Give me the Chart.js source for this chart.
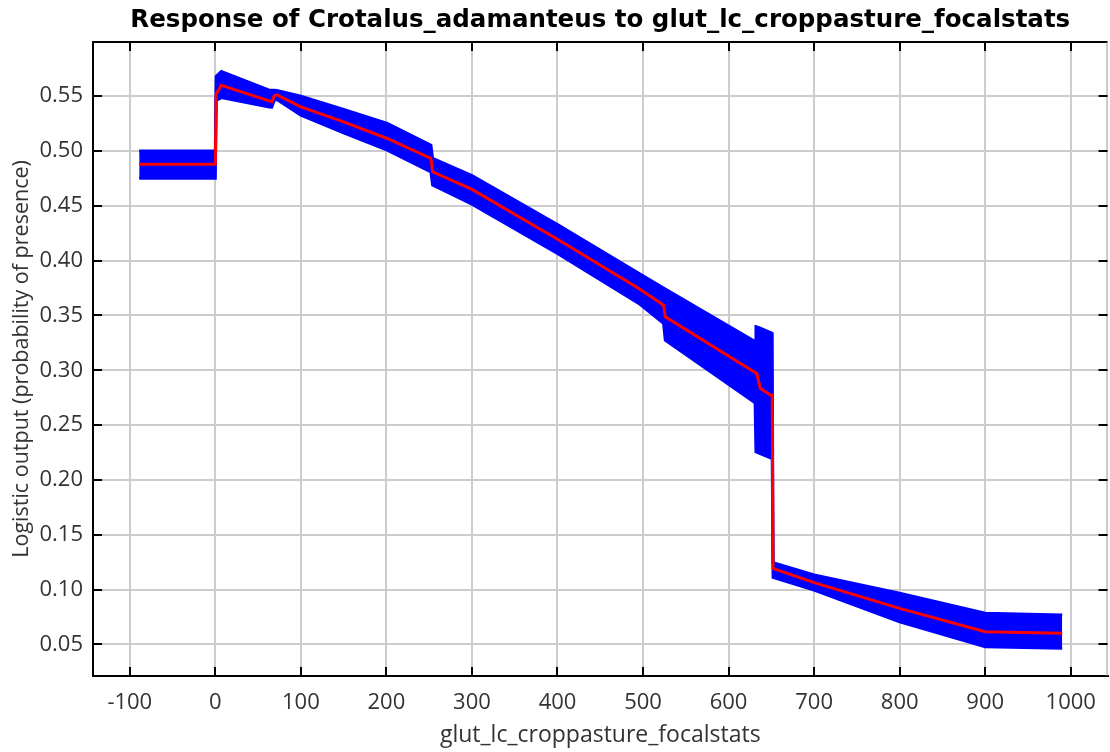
<!DOCTYPE html>
<html>
<head>
  <title>Response of Crotalus_adamanteus</title>
  <script src="https://cdn.jsdelivr.net/npm/chart.js"></script>
  <style>
    body { margin: 0; background: #fff; }
    #curve { display: block; }
  </style>
</head>
<body>
  <canvas id="curve" width="1110" height="752"></canvas>
  <script>
    const titleText = 'Response of Crotalus_adamanteus to glut_lc_croppasture_focalstats';
    const xTitle = 'glut_lc_croppasture_focalstats';
    const yTitle = 'Logistic output (probability of presence)';

    // variable values where the curve was read
    const xValues = [-89, 0, 1, 7, 63, 66, 69, 72, 100, 150, 201, 252, 254, 300, 400, 495, 524, 526,
      631, 632, 633, 637, 649, 651, 652, 700, 800, 900, 990];
    // mean response (red)
    const meanValues = [0.488, 0.488, 0.552, 0.560, 0.5457, 0.5450, 0.5505, 0.5512, 0.5402, 0.5266, 0.5114, 0.4932, 0.481, 0.4650, 0.4195, 0.3747, 0.3594, 0.3488,
      0.2980, 0.2976, 0.2972, 0.2835, 0.2774, 0.2774, 0.1194, 0.1063, 0.0829, 0.0616, 0.0601];
    // mean +/- one std dev (blue band)
    const upperValues = [0.4999, 0.4999, 0.568, 0.5725, 0.5555, 0.5553, 0.5555, 0.5552, 0.5500, 0.5379, 0.5251, 0.5053, 0.4932, 0.4775, 0.4330, 0.3884, 0.3751, 0.3742,
      0.3263, 0.3397, 0.3395, 0.3385, 0.3345, 0.3336, 0.1245, 0.1133, 0.0966, 0.0784, 0.0768];
    const lowerValues = [0.4752, 0.4752, 0.546, 0.5487, 0.5402, 0.5400, 0.5465, 0.5470, 0.5327, 0.5166, 0.5008, 0.4810, 0.4689, 0.4515, 0.4065, 0.3610, 0.3428, 0.3275,
      0.2703, 0.2257, 0.2254, 0.2240, 0.2202, 0.2197, 0.1112, 0.0996, 0.0707, 0.0479, 0.0464];

    const xTicks = [-100, 0, 100, 200, 300, 400, 500, 600, 700, 800, 900, 1000];
    const xTickLabels = ['-100', '0', '100', '200', '300', '400', '500', '600', '700', '800', '900', '1000'];
    const yTicks = [0.05, 0.10, 0.15, 0.20, 0.25, 0.30, 0.35, 0.40, 0.45, 0.50, 0.55];
    const yTickLabels = ['0.05', '0.10', '0.15', '0.20', '0.25', '0.30', '0.35', '0.40', '0.45', '0.50', '0.55'];

    const toPoints = vals => xValues.map((x, i) => ({ x: x, y: vals[i] }));

    // top/right frame and the small inward tick marks on all four sides
    const frameTicks = {
      id: 'frameTicks',
      afterDraw(chart) {
        const ctx = chart.ctx;
        const a = chart.chartArea;
        const xs = chart.scales.x, ys = chart.scales.y;
        const len = 9;
        ctx.save();
        ctx.lineWidth = 2;
        ctx.strokeStyle = '#000';
        ctx.beginPath();
        ctx.moveTo(a.left, a.top);
        ctx.lineTo(a.right, a.top);
        ctx.stroke();
        ctx.strokeStyle = '#999';
        ctx.lineWidth = 1;
        ctx.beginPath();
        ctx.moveTo(a.right - 0.5, a.top);
        ctx.lineTo(a.right - 0.5, a.bottom);
        ctx.stroke();
        ctx.strokeStyle = '#000';
        ctx.lineWidth = 2;
        ctx.beginPath();
        xTicks.forEach(v => {
          const px = Math.round(xs.getPixelForValue(v));
          ctx.moveTo(px, a.bottom);
          ctx.lineTo(px, a.bottom - len);
          ctx.moveTo(px, a.top);
          ctx.lineTo(px, a.top + len);
        });
        yTicks.forEach(v => {
          const py = Math.round(ys.getPixelForValue(v));
          ctx.moveTo(a.left, py);
          ctx.lineTo(a.left + len, py);
          ctx.moveTo(a.right, py);
          ctx.lineTo(a.right - len, py);
        });
        ctx.stroke();
        ctx.restore();
      }
    };

    const tickFont = { family: 'Open Sans', size: 22 };

    const config = {
      type: 'line',
      data: {
        datasets: [
          {
            label: 'mean',
            data: toPoints(meanValues),
            borderColor: '#ff0000',
            borderWidth: 3,
            pointRadius: 0,
            fill: false,
            order: 0
          },
          {
            label: 'upper',
            data: toPoints(upperValues),
            borderColor: '#0000ff',
            backgroundColor: '#0000ff',
            borderWidth: 3,
            pointRadius: 0,
            fill: '+1',
            order: 1
          },
          {
            label: 'lower',
            data: toPoints(lowerValues),
            borderColor: '#0000ff',
            borderWidth: 3,
            pointRadius: 0,
            fill: false,
            order: 2
          }
        ]
      },
      options: {
        responsive: false,
        animation: false,
        layout: { padding: { left: 0, right: 1, top: 0, bottom: 0 } },
        plugins: {
          legend: { display: false },
          tooltip: { enabled: false },
          title: {
            display: true,
            text: titleText,
            fullSize: false,
            color: '#000',
            font: { family: 'DejaVu Sans', size: 24.5, weight: 'bold' },
            padding: { top: 6, bottom: 6.5 }
          }
        },
        scales: {
          x: {
            type: 'linear',
            min: -143,
            max: 1043,
            afterBuildTicks: s => { s.ticks = xTicks.map(v => ({ value: v })); },
            afterFit: s => { s.height = 76; },
            ticks: {
              autoSkip: false,
              maxRotation: 0,
              padding: 14,
              color: '#333',
              font: tickFont,
              callback: (v, i) => xTickLabels[i]
            },
            grid: { color: '#cccccc', lineWidth: 2, drawTicks: false },
            border: { color: '#000', width: 2 },
            title: {
              display: true,
              text: xTitle,
              color: '#333',
              font: { family: 'Open Sans', size: 23 },
              padding: { top: 0, bottom: 3 }
            }
          },
          y: {
            type: 'linear',
            min: 0.0212,
            max: 0.5995,
            afterBuildTicks: s => { s.ticks = yTicks.map(v => ({ value: v })); },
            afterFit: s => { s.width = 93; },
            ticks: {
              autoSkip: false,
              padding: 10,
              color: '#333',
              font: tickFont,
              callback: (v, i) => yTickLabels[i]
            },
            grid: { color: '#cccccc', lineWidth: 2, drawTicks: false },
            border: { color: '#000', width: 2 },
            title: {
              display: true,
              text: yTitle,
              color: '#333',
              font: { family: 'Open Sans', size: 21.5 },
              padding: { top: 9, bottom: 0 }
            }
          }
        }
      },
      plugins: [frameTicks]
    };

    const chart = new Chart(document.getElementById('curve'), config);
  </script>
</body>
</html>
